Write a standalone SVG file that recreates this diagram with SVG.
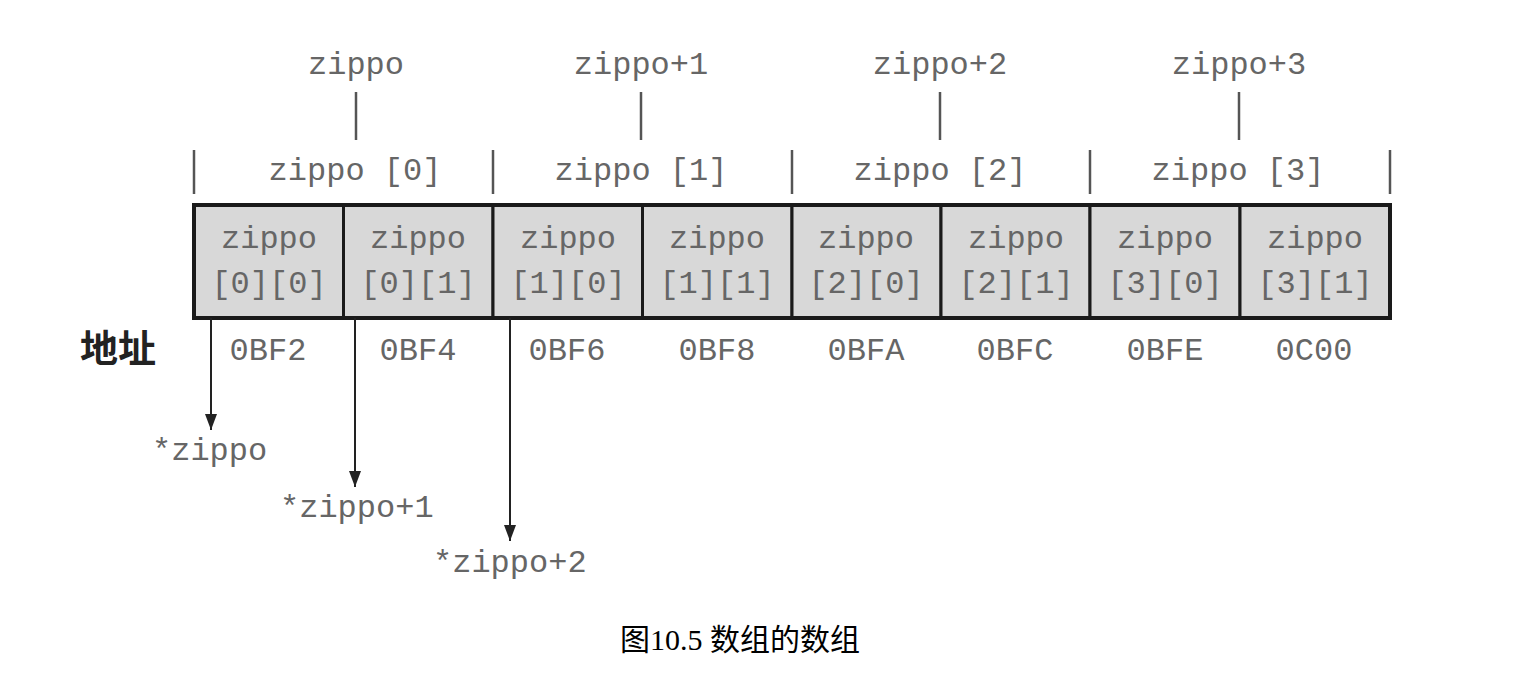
<svg xmlns="http://www.w3.org/2000/svg" width="1522" height="688" viewBox="0 0 1522 688">
<defs>
<style>
.m{font-family:"Liberation Mono","DejaVu Sans Mono",monospace;font-size:32px;fill:#666;text-anchor:middle}
.ml{font-family:"Liberation Mono","DejaVu Sans Mono",monospace;font-size:32px;fill:#666}
.cell{fill:#d8d8d8;stroke:#1a1a1a;stroke-width:3}
.tick{stroke:#555;stroke-width:2.5}
.arr{stroke:#222;stroke-width:2;fill:none;marker-end:url(#ah)}
</style>
<marker id="ah" viewBox="0 0 16 12" refX="16" refY="6" markerWidth="16" markerHeight="12" markerUnits="userSpaceOnUse" orient="auto">
<path d="M0,0 L16,6 L0,12 z" fill="#222"/>
</marker>
</defs>
<rect width="1522" height="688" fill="#fff"/>
<g id="pointers">
<text class="m" x="356" y="74">zippo</text>
<text class="m" x="641" y="74">zippo+1</text>
<text class="m" x="940" y="74">zippo+2</text>
<text class="m" x="1239" y="74">zippo+3</text>
<line class="tick" x1="356" y1="92" x2="356" y2="140"/>
<line class="tick" x1="641" y1="92" x2="641" y2="140"/>
<line class="tick" x1="940" y1="92" x2="940" y2="140"/>
<line class="tick" x1="1239" y1="92" x2="1239" y2="140"/>
</g>
<g id="groups">
<line class="tick" x1="194" y1="150" x2="194" y2="194"/>
<line class="tick" x1="493" y1="150" x2="493" y2="194"/>
<line class="tick" x1="792" y1="150" x2="792" y2="194"/>
<line class="tick" x1="1090" y1="150" x2="1090" y2="194"/>
<line class="tick" x1="1390" y1="150" x2="1390" y2="194"/>
<text class="m" x="355" y="180">zippo [0]</text>
<text class="m" x="641" y="180">zippo [1]</text>
<text class="m" x="940" y="180">zippo [2]</text>
<text class="m" x="1238" y="180">zippo [3]</text>
</g>
<g id="cells">
<g id="c00"><rect class="cell" x="194" y="205" width="149.5" height="113"/><text class="m" x="269" y="248">zippo</text><text class="m" x="269" y="293">[0][0]</text></g>
<g id="c01"><rect class="cell" x="343.5" y="205" width="149.5" height="113"/><text class="m" x="418" y="248">zippo</text><text class="m" x="418" y="293">[0][1]</text></g>
<g id="c10"><rect class="cell" x="493" y="205" width="149.5" height="113"/><text class="m" x="568" y="248">zippo</text><text class="m" x="568" y="293">[1][0]</text></g>
<g id="c11"><rect class="cell" x="642.5" y="205" width="149.5" height="113"/><text class="m" x="717" y="248">zippo</text><text class="m" x="717" y="293">[1][1]</text></g>
<g id="c20"><rect class="cell" x="792" y="205" width="149" height="113"/><text class="m" x="866" y="248">zippo</text><text class="m" x="866" y="293">[2][0]</text></g>
<g id="c21"><rect class="cell" x="941" y="205" width="149" height="113"/><text class="m" x="1016" y="248">zippo</text><text class="m" x="1016" y="293">[2][1]</text></g>
<g id="c30"><rect class="cell" x="1090" y="205" width="150" height="113"/><text class="m" x="1165" y="248">zippo</text><text class="m" x="1165" y="293">[3][0]</text></g>
<g id="c31"><rect class="cell" x="1240" y="205" width="150" height="113"/><text class="m" x="1315" y="248">zippo</text><text class="m" x="1315" y="293">[3][1]</text></g>
<rect x="194" y="205" width="1196" height="113" fill="none" stroke="#1a1a1a" stroke-width="4"/>
</g>
<g id="addresses">
<text x="80" y="362" font-family="'Noto Sans CJK SC',sans-serif" font-weight="bold" font-size="38" fill="#222">地址</text>
<text class="m" x="268" y="360">0BF2</text>
<text class="m" x="418" y="360">0BF4</text>
<text class="m" x="567" y="360">0BF6</text>
<text class="m" x="717" y="360">0BF8</text>
<text class="m" x="866" y="360">0BFA</text>
<text class="m" x="1015" y="360">0BFC</text>
<text class="m" x="1165" y="360">0BFE</text>
<text class="m" x="1314" y="360">0C00</text>
</g>
<g id="connectors">
<line class="arr" x1="211" y1="318" x2="211" y2="430"/>
<line class="arr" x1="355" y1="318" x2="355" y2="487"/>
<line class="arr" x1="510" y1="318" x2="510" y2="541"/>
</g>
<g id="derefs">
<text class="ml" x="152" y="460">*zippo</text>
<text class="ml" x="280" y="517">*zippo+1</text>
<text class="ml" x="433" y="572">*zippo+2</text>
</g>
<text id="caption" x="740" y="650" text-anchor="middle" font-family="'Liberation Serif','Noto Sans CJK SC',serif" font-size="30" fill="#000">图10.5 数组的数组</text>
</svg>
